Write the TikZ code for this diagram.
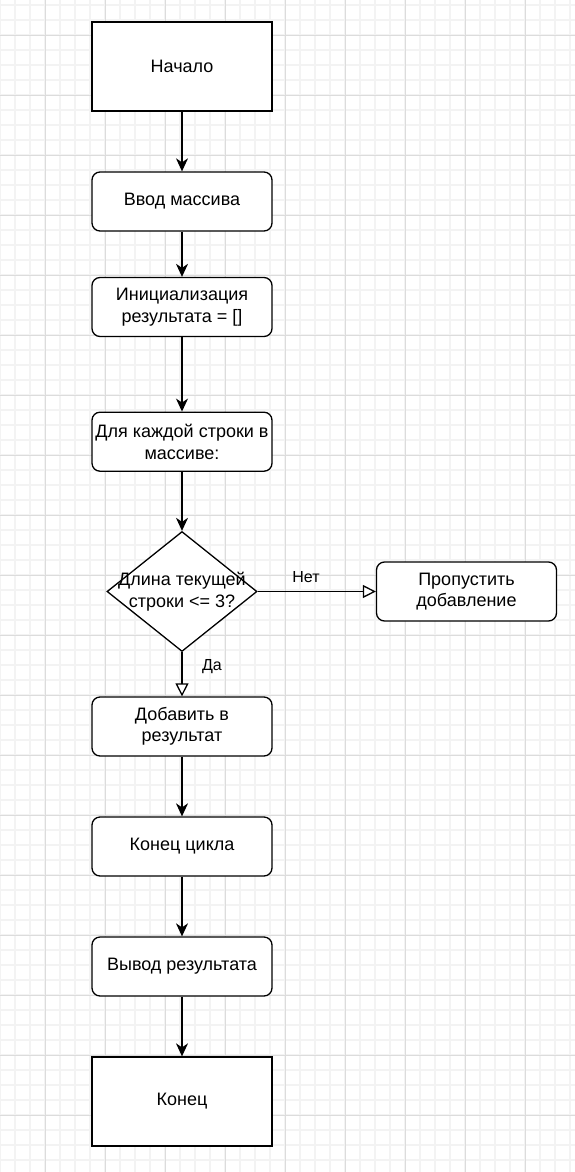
\documentclass[tikz,border=0pt]{standalone}
\usepackage{fontspec}
\setmainfont{Liberation Sans}
\usetikzlibrary{arrows.meta,shapes.geometric}
\definecolor{gridmajor}{HTML}{DCDCDC}
\definecolor{gridminor}{HTML}{F3F3F3}
\begin{document}
\begin{tikzpicture}[x=1pt,y=-1pt,
  nodefont/.style={font=\fontsize{18}{21.5}\selectfont},
  sharpbox/.style={draw, line width=1.3pt, fill=white, minimum width=180pt, minimum height=89pt, inner sep=0pt, align=center, nodefont},
  roundbox/.style={draw, line width=1.3pt, fill=white, rounded corners=8pt, minimum width=180pt, minimum height=59pt, inner sep=0pt, align=center, nodefont},
  decision/.style={draw, diamond, line width=1.3pt, fill=white, minimum width=150pt, minimum height=120pt, inner sep=0pt},
  flow/.style={line width=1.3pt, -{Stealth[length=13pt, width=12pt, inset=4pt]}},
  branch/.style={line width=1.3pt, -{Triangle[open, length=13pt, width=13pt, fill=white]}},
  lbl/.style={font=\fontsize{16}{19}\selectfont, inner sep=0pt}
]
\useasboundingbox (0,0) rectangle (575,1172);
\fill[white] (0,0) rectangle (575,1172);
% minor grid
\foreach \x in {0,15,...,570} \draw[gridminor, line width=1.2pt] (\x,0) -- (\x,1172);
\foreach \y in {5,20,...,1170} \draw[gridminor, line width=1.2pt] (0,\y) -- (575,\y);
% major grid
\foreach \x in {45,105,...,525} \draw[gridmajor, line width=0.8pt] (\x,0) -- (\x,1172);
\foreach \y in {35,95,...,1115} \draw[gridmajor, line width=0.8pt] (0,\y) -- (575,\y);

\node[sharpbox] (start) at (182,66.5) {Начало};
\node[roundbox] (input) at (182,201.5) {\raisebox{-1.5pt}{Ввод массива}};
\node[roundbox] (init) at (182,307) {Инициализация\\результата = []};
\node[roundbox] (loop) at (182,441.7) {Для каждой строки в\\массиве:};
\node[decision] (dec) at (182,591.5) {};
\node[nodefont, align=center, inner sep=0pt] (dectext) at (dec.center) {Длина текущей\\строки <= 3?};
\node[roundbox] (skip) at (466.5,591.5) {Пропустить\\добавление};
\node[roundbox] (add) at (182,726.5) {Добавить в\\результат};
\node[roundbox] (endloop) at (182,846.5) {Конец цикла};
\node[roundbox] (output) at (182,966.5) {Вывод результата};
\node[sharpbox] (end) at (182,1101.5) {Конец};

\draw[flow] (start) -- (input);
\draw[flow] (input) -- (init);
\draw[flow] (init) -- (loop);
\draw[flow] (loop) -- (dec);
\draw[branch] (dec.east) -- (skip.west);
\draw[branch] (dec.south) -- (add.north);
\draw[flow] (add) -- (endloop);
\draw[flow] (endloop) -- (output);
\draw[flow] (output) -- (end);

\node[lbl] (no) at (306,577) {Нет};
\node[lbl] (yes) at (212,667) {Да};
\end{tikzpicture}
\end{document}
